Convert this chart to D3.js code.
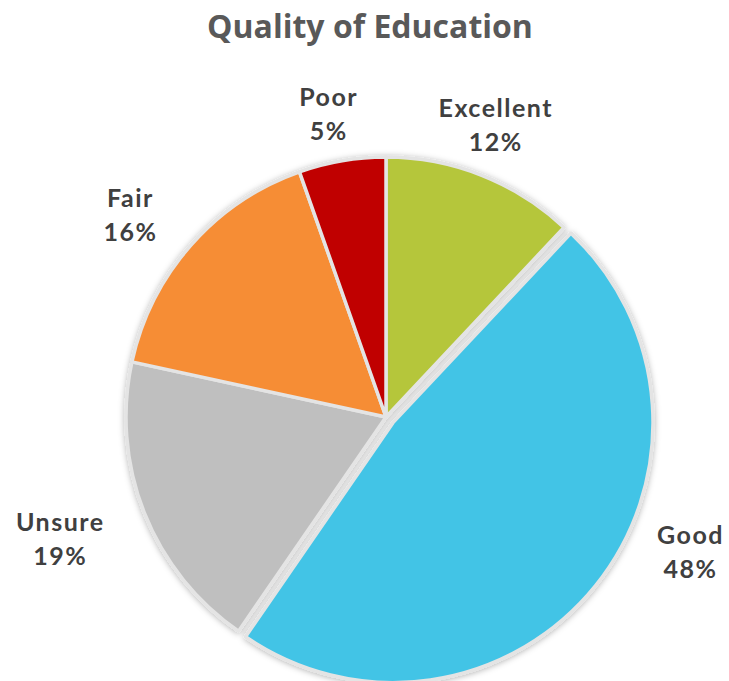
<!DOCTYPE html>
<html>
<head>
<meta charset="utf-8">
<script src="https://cdn.jsdelivr.net/npm/d3@7"></script>
<style>
  html, body { margin: 0; padding: 0; background: #fff; }
</style>
</head>
<body>
<svg id="chart" width="729" height="681"></svg>
<script>
// ---- data ----
const categories = ["Excellent", "Good", "Unsure", "Fair", "Poor"];
const values = [12.0, 47.6, 18.8, 16.2, 5.4];
const colors = ["#B5C63B", "#43C4E6", "#BFBFBF", "#F68D36", "#C00000"];
const title = "Quality of Education";

// ---- layout ----
const W = 729, H = 681;
const cx = 386, cy = 417, R = 260;
const explode = { "Good": 9 };
const labelLayout = {
  "Excellent": { r: 312, shift: -1 },
  "Poor":      { r: 308, shift: -1 },
  "Fair":      { r: 326, shift: -3 },
  "Unsure":    { r: 348, shift: 1 },
  "Good":      { r: 333, shift: -15 }
};

const svg = d3.select("#chart");
const defs = svg.append("defs");
const f = defs.append("filter").attr("id", "shadow")
  .attr("x", "-20%").attr("y", "-20%").attr("width", "140%").attr("height", "140%");
f.append("feDropShadow").attr("dx", 0).attr("dy", 1).attr("stdDeviation", 3)
  .attr("flood-color", "#000").attr("flood-opacity", 0.3);

svg.append("text")
  .attr("x", 370).attr("y", 38)
  .attr("text-anchor", "middle")
  .attr("font-family", "'Open Sans', sans-serif")
  .attr("font-weight", 700)
  .attr("font-size", 32)
  .attr("fill", "#595959")
  .text(title);

const data = categories.map((c, i) => ({ cat: c, value: values[i], color: colors[i] }));
const pie = d3.pie().value(d => d.value).sort(null);
const arcs = pie(data);
const arc = d3.arc().innerRadius(0).outerRadius(R);

const g = svg.append("g").attr("transform", `translate(${cx},${cy})`);
const slices = g.append("g").attr("filter", "url(#shadow)");
slices.selectAll("path").data(arcs).join("path")
  .attr("d", arc)
  .attr("transform", d => {
    const e = explode[d.data.cat] || 0;
    const a = (d.startAngle + d.endAngle) / 2;
    return `translate(${e * Math.sin(a)},${-e * Math.cos(a)})`;
  })
  .attr("fill", d => d.data.color)
  .attr("stroke", "#E4E4E4")
  .attr("stroke-width", 3.5)
  .attr("stroke-linejoin", "round");

const labels = g.append("g");
arcs.forEach(d => {
  const L = labelLayout[d.data.cat];
  const a = (d.startAngle + d.endAngle) / 2 + L.shift * Math.PI / 180;
  const x = L.r * Math.sin(a), y = -L.r * Math.cos(a);
  const t = labels.append("text")
    .attr("text-anchor", "middle")
    .attr("font-family", "Lato, sans-serif")
    .attr("font-weight", 700)
    .attr("font-size", 25)
    .attr("fill", "#404040")
    .attr("letter-spacing", 1.5);
  t.append("tspan").attr("x", x).attr("y", y - 8).text(d.data.cat);
  t.append("tspan").attr("x", x).attr("y", y + 26).text(Math.round(d.data.value) + "%");
});
</script>
</body>
</html>
